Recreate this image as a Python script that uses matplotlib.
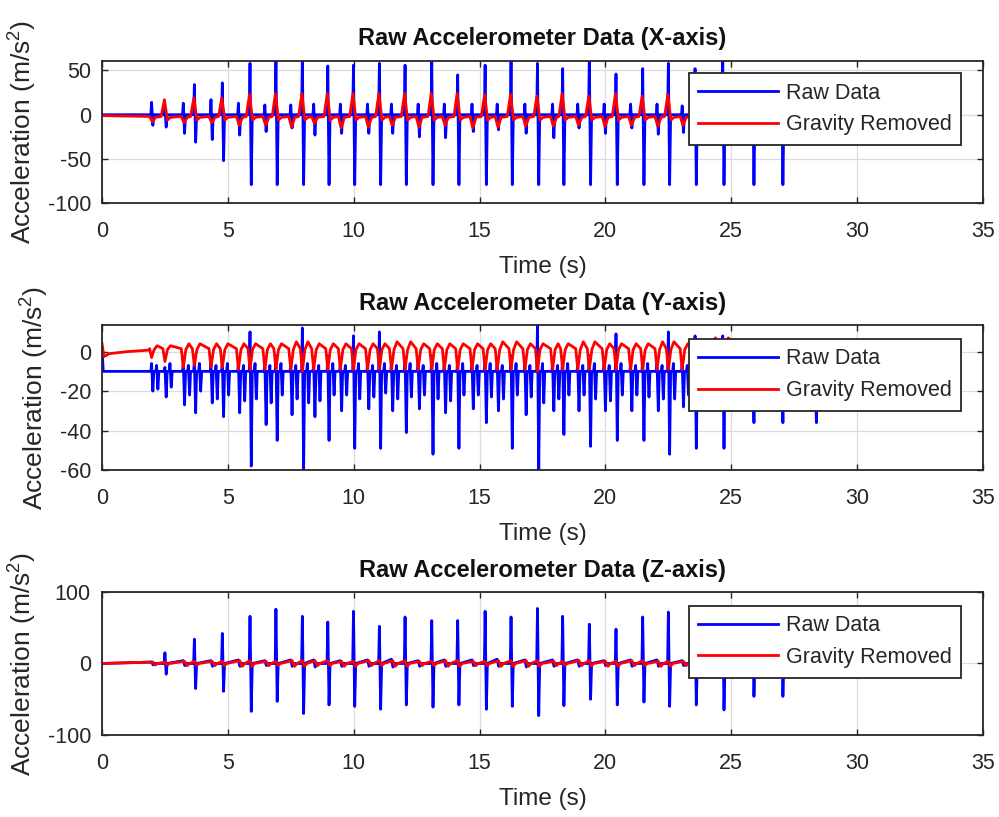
import matplotlib
matplotlib.use("Agg")
import matplotlib.pyplot as plt

plt.rcParams['font.family'] = ['Liberation Sans', 'DejaVu Sans']
plt.rcParams['mathtext.default'] = 'regular'
plt.rcParams['axes.unicode_minus'] = False

# gait events (s): toe-off spike then heel-strike spike for each step
minor_t = [1.97, 3.23, 4.33, 5.42, 6.47, 7.50, 8.41, 9.47, 10.55, 11.50, 12.56, 13.60,
           14.70, 15.70, 16.80, 17.90, 18.90, 19.95, 21.00, 22.05, 23.05, 24.15, 25.35, 26.50, 27.80]
major_t = [2.50, 3.67, 4.78, 5.88, 6.91, 7.96, 8.97, 9.99, 11.02, 12.04, 13.10, 14.13,
           15.22, 16.25, 17.30, 18.30, 19.36, 20.42, 21.48, 22.50, 23.56, 24.66, 25.85, 27.00, 28.33]
t_end = 28.8

# X axis (m/s^2)
x_major_hi = [8, 34, 36, 58, 66, 66, 55, 56, 58, 56, 60, 45, 56, 66, 58, 52, 66, 46, 52, 58, 52, 62, 40, 40, 10]
x_major_lo = [-14, -31, -52, -79, -79, -79, -79, -79, -79, -79, -79, -79, -79, -79, -79, -79,
              -79, -79, -79, -79, -79, -79, -79, -79, -20]
x_minor_hi = [14, 13, 17, 13, 11, 11, 12, 12, 12, 12, 12, 12, 12, 12, 12, 12, 12, 12, 12, 12, 10, 10, 8, 8, 6]
x_minor_lo = [-12, -21, -28, -23, -19, -15, -23, -21, -21, -21, -25, -26, -19, -17, -21, -26,
              -15, -21, -15, -22, -20, -20, -18, -18, -10]
x_grav_peak = [17, 19, 19, 23, 24, 24, 24, 24, 24, 24, 24, 24, 23, 23, 21, 24, 21, 24, 21, 23, 24, 20, 18, 18, 8]
x_grav_dip = [-8, -9, -9, -12, -12, -14, -10, -15, -14, -12, -14, -12, -15, -14, -13, -13,
              -12, -13, -12, -13, -12, -10, -10, -10, -6]

# Y axis (m/s^2)
y_raw_start_t = [0.0, 0.05]
y_raw_start_v = [2, -10]
y_major_hi = [-8, -5, -4, 10, -2, 12, -2, 8, 10, -3, -2, -3, -3, -2, 14, -3, -2, 9, -3, 10, 8, 8, -9, -9, -9]
y_major_lo = [-23, -31, -33, -58, -45, -60, -45, -49, -49, -41, -52, -49, -36, -49, -61, -42,
              -48, -45, -45, -52, -49, -49, -36, -36, -36]
y_minor_lo = [-20, -27, -26, -31, -37, -32, -33, -30, -29, -30, -29, -31, -29, -30, -32, -30,
              -30, -30, -30, -30, -28, -25, -25, -25, -20]
y_mid_lo = [-19, -22, -24, -25, -26, -24, -25, -22, -23, -24, -22, -25, -22, -24, -23, -24,
            -22, -25, -22, -24, -22, -20, -15, -15, -12]
y_post_lo = [-18, -20, -22, -24, -22, -26, -22, -24, -21, -23, -24, -22, -23, -22, -26, -22,
             -24, -22, -23, -24, -22, -20, -15, -15, -12]
y_grav_start_t = [0.0, 0.08, 0.3, 1.0, 1.9]
y_grav_start_v = [4, -2.5, -1, 0, 0.8]
y_grav_dip_minor = [-3, -8, -8, -9, -9, -9, -9, -9, -9, -9, -9, -9, -9, -9, -9, -9,
                    -9, -9, -9, -9, -9, -8, -6, -6, -4]
y_grav_dip_major = [-5, -7, -8, -9, -9, -10, -9, -9, -9, -9, -9, -9, -9, -9, -10, -9,
                    -9, -9, -9, -9, -9, -8, -6, -6, -4]
y_grav_top = [3, 4, 4, 4, 4, 5, 4, 4, 4, 5, 4, 4, 4, 5, 4, 4, 5, 4, 4, 5, 4, 7, 3, 3, 2]

# Z axis (m/s^2)
z_major_hi = [15, 34, 42, 66, 76, 66, 58, 73, 52, 65, 60, 60, 73, 65, 77, 66, 55, 48, 65, 72, 60, 70, 45, 45, 10]
z_major_lo = [-15, -35, -39, -67, -53, -70, -58, -60, -64, -58, -61, -58, -64, -60, -73, -59,
              -50, -58, -54, -60, -58, -65, -46, -46, -15]
z_minor_hi = [2, 4, 4, 5, 4, 5, 5, 4, 5, 6, 4, 5, 5, 6, 5, 5, 5, 4, 5, 5, 4, 4, 3, 3, 2]
z_minor_lo = [-2, -3, -4, -4, -3, -4, -5, -4, -4, -5, -4, -4, -3, -4, -5, -4, -4, -3, -4, -4, -3, -3, -2, -2, -2]
z_grav_hi = [2, 3, 3, 4, 3, 4, 4, 3, 4, 4, 3, 4, 3, 4, 4, 3, 4, 3, 4, 3, 3, 3, 2, 2, 1]
z_grav_lo = [-2, -3, -3, -4, -3, -4, -3, -4, -3, -4, -3, -4, -3, -4, -4, -3, -3, -4, -3, -4, -3, -3, -2, -2, -1]


def spike(t, hi, lo, base):
    return [(t - 0.03, base), (t, hi), (t + 0.05, lo), (t + 0.09, base)]


def to_xy(pts, start=None, base=0.0):
    pts = sorted(pts)
    if start is None:
        start = [(0.0, base)]
    pts = start + pts + [(t_end, base)]
    return [p[0] for p in pts], [p[1] for p in pts]


# X traces
pts = []
for i in range(len(major_t)):
    pts += spike(minor_t[i], x_minor_hi[i], x_minor_lo[i], 0)
    pts += spike(major_t[i], x_major_hi[i], x_major_lo[i], 0)
x_raw = to_xy(pts)

pts = []
for i in range(len(major_t)):
    tm, tM = minor_t[i], major_t[i]
    pts += [(tm - 0.08, -2), (tm + 0.03, x_grav_dip[i]), (tm + 0.16, -3)]
    pts += [(tM - 0.15, -2), (tM - 0.02, x_grav_peak[i]), (tM + 0.1, -6), (tM + 0.22, -3)]
x_grav = to_xy(pts, base=-1)

# Y traces
pts = []
for i in range(len(major_t)):
    pts += spike(minor_t[i], -6, y_minor_lo[i], -10)
    pts += spike(minor_t[i] + 0.2, -7, y_mid_lo[i], -10)
    pts += spike(major_t[i], y_major_hi[i], y_major_lo[i], -10)
    pts += spike(major_t[i] + 0.2, -6, y_post_lo[i], -10)
y_raw = to_xy(pts, start=list(zip(y_raw_start_t, y_raw_start_v)), base=-10)

pts = []
for i in range(len(major_t)):
    for e, d in ((minor_t[i], y_grav_dip_minor[i]), (major_t[i], y_grav_dip_major[i])):
        pts += [(e - 0.08, 1.5), (e, d), (e + 0.1, 1), (e + 0.22, y_grav_top[i])]
y_grav = to_xy(pts, start=list(zip(y_grav_start_t, y_grav_start_v)), base=1)

# Z traces
pts = []
for i in range(len(major_t)):
    pts += [(minor_t[i], z_minor_hi[i]), (minor_t[i] + 0.06, z_minor_lo[i]), (minor_t[i] + 0.1, 0)]
    pts += spike(major_t[i], z_major_hi[i], z_major_lo[i], 0)
z_raw = to_xy(pts)

pts = []
for i in range(len(major_t)):
    pts += [(minor_t[i] + 0.05, z_grav_hi[i]), (minor_t[i] + 0.15, z_grav_lo[i]), (minor_t[i] + 0.25, 0)]
    pts += [(major_t[i], z_grav_hi[i]), (major_t[i] + 0.08, z_grav_lo[i]), (major_t[i] + 0.18, 0)]
z_grav = to_xy(pts)

panels = [
    ('X', x_raw, x_grav, (-100, 61), [-100, -50, 0, 50], [0.7512, 0.1745], 0.915),
    ('Y', y_raw, y_grav, (-60, 13.5), [-60, -40, -20, 0], [0.4247, 0.1775], 0.905),
    ('Z', z_raw, z_grav, (-100, 100), [-100, 0, 100], [0.1004, 0.1750], 0.905),
]

dark = '#262626'
fig = plt.figure(figsize=(9.99, 8.17), dpi=100)
for name, raw, grav, ylim, yticks, (bottom, height), leg_top in panels:
    ax = fig.add_axes([0.1021, bottom, 0.8819, height])
    ax.plot(raw[0], raw[1], color='blue', lw=2.0, label='Raw Data')
    ax.plot(grav[0], grav[1], color='red', lw=2.0, label='Gravity Removed')
    ax.set_xlim(0, 35)
    ax.set_ylim(*ylim)
    ax.set_xticks(range(0, 36, 5))
    ax.set_yticks(yticks)
    ax.grid(True, color='#dcdcdc', lw=0.9)
    ax.set_axisbelow(True)
    for s in ax.spines.values():
        s.set_color(dark)
        s.set_linewidth(1.3)
    ax.tick_params(direction='in', top=True, right=True, length=4, width=1,
                   colors=dark, labelsize=15.5)
    ax.tick_params(axis='x', pad=13)
    ax.tick_params(axis='y', pad=8)
    ax.set_title(f'Raw Accelerometer Data ({name}-axis)', fontsize=17, fontweight='bold',
                 color='#111111', pad=11)
    ax.set_xlabel('Time (s)', fontsize=17.5, color=dark, labelpad=10)
    ax.set_ylabel('Acceleration (m/s$^2$)', fontsize=19, color=dark, labelpad=6)
    leg = ax.legend(loc='upper left', bbox_to_anchor=(0.666, leg_top), borderaxespad=0,
                    fontsize=15.5, handlelength=3.7, handletextpad=0.35, borderpad=0.45,
                    labelspacing=0.5, fancybox=False, framealpha=1, edgecolor=dark)
    leg.get_frame().set_linewidth(1.3)
    for txt in leg.get_texts():
        txt.set_color(dark)

fig.savefig('out.png', dpi=100)
